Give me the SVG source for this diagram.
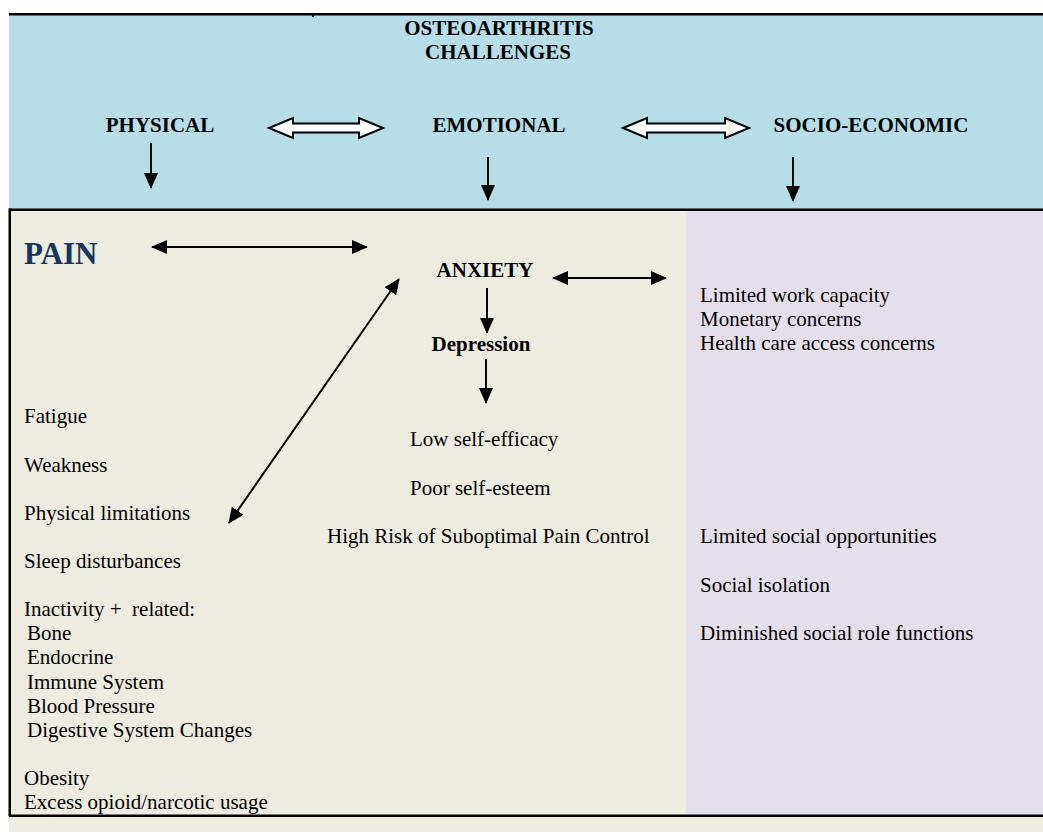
<svg xmlns="http://www.w3.org/2000/svg" width="1043" height="832" viewBox="0 0 1043 832">
<style>
.t{font-family:"Liberation Serif","Times New Roman",serif;font-size:21px;fill:#000}
.b{font-family:"Liberation Serif","Times New Roman",serif;font-size:21px;font-weight:bold;fill:#000}
.c{text-anchor:middle}
.ln{stroke:#000;stroke-width:2;fill:none}
.hollow{fill:#fff;stroke:#000;stroke-width:2;stroke-linejoin:miter}
</style>
<defs>
<marker id="ah" markerUnits="userSpaceOnUse" markerWidth="17" markerHeight="15" refX="15" refY="7" orient="auto-start-reverse" viewBox="0 0 17 15">
<path d="M0,0 L16,7 L0,14 z" fill="#000"/>
</marker>
</defs>
<g id="background">
<rect x="9" y="15" width="1034" height="194" fill="#b7dde8"/>
<rect x="9" y="209" width="1034" height="623" fill="#eeece1"/>
<rect x="686" y="210" width="357" height="605" fill="#e5dfec"/>
<rect x="9" y="13" width="1034" height="2.5" fill="#000"/>
<rect x="312" y="15" width="2" height="2" fill="#000"/>
<rect x="9" y="208.5" width="1034" height="2.5" fill="#000"/>
<rect x="8.5" y="208.5" width="2.5" height="608" fill="#000"/>
<rect x="9" y="814.5" width="1034" height="2.5" fill="#000"/>
</g>
<g id="title">
<text class="b c" x="499" y="35">OSTEOARTHRITIS</text>
<text class="b c" x="498" y="59">CHALLENGES</text>
</g>
<g id="physical"><text class="b c" x="160" y="132">PHYSICAL</text></g>
<g id="emotional"><text class="b c" x="499" y="132">EMOTIONAL</text></g>
<g id="socio-economic"><text class="b c" x="871" y="132">SOCIO-ECONOMIC</text></g>
<g id="pain"><text x="24" y="264" style="font-family:'Liberation Serif','Times New Roman',serif;font-size:31px;font-weight:bold;fill:#17365d">PAIN</text></g>
<g id="anxiety"><text class="b c" x="485" y="277">ANXIETY</text></g>
<g id="depression"><text class="b c" x="481" y="351">Depression</text></g>
<g id="emotional-effects">
<text class="t" x="410" y="446">Low self-efficacy</text>
<text class="t" x="410" y="495">Poor self-esteem</text>
<text class="t" x="327" y="543">High Risk of Suboptimal Pain Control</text>
</g>
<g id="physical-effects">
<text class="t" x="24" y="423">Fatigue</text>
<text class="t" x="24" y="472">Weakness</text>
<text class="t" x="24" y="520">Physical limitations</text>
<text class="t" x="24" y="568">Sleep disturbances</text>
<text class="t" x="24" y="616" xml:space="preserve">Inactivity +  related:</text>
<text class="t" x="27" y="640">Bone</text>
<text class="t" x="27" y="664">Endocrine</text>
<text class="t" x="27" y="689">Immune System</text>
<text class="t" x="27" y="713">Blood Pressure</text>
<text class="t" x="27" y="737">Digestive System Changes</text>
<text class="t" x="24" y="785">Obesity</text>
<text class="t" x="24" y="809">Excess opioid/narcotic usage</text>
</g>
<g id="socio-effects">
<text class="t" x="700" y="302">Limited work capacity</text>
<text class="t" x="700" y="326">Monetary concerns</text>
<text class="t" x="700" y="350">Health care access concerns</text>
<text class="t" x="700" y="543">Limited social opportunities</text>
<text class="t" x="700" y="592">Social isolation</text>
<text class="t" x="700" y="640">Diminished social role functions</text>
</g>
<g id="connectors">
<polygon class="hollow" points="269,128 293,118 293,123.5 359,123.5 359,118 383,128 359,138 359,132.5 293,132.5 293,138"/>
<polygon class="hollow" points="623,128 647,118 647,123.5 725,123.5 725,118 749,128 725,138 725,132.5 647,132.5 647,138"/>
<line class="ln" x1="151" y1="143" x2="151" y2="188" marker-end="url(#ah)"/>
<line class="ln" x1="488" y1="157" x2="488" y2="200" marker-end="url(#ah)"/>
<line class="ln" x1="793" y1="157" x2="793" y2="201" marker-end="url(#ah)"/>
<line class="ln" x1="152" y1="247" x2="367" y2="247" marker-start="url(#ah)" marker-end="url(#ah)"/>
<line class="ln" x1="553" y1="278" x2="666" y2="278" marker-start="url(#ah)" marker-end="url(#ah)"/>
<line class="ln" x1="487" y1="288" x2="487" y2="333" marker-end="url(#ah)"/>
<line class="ln" x1="486" y1="359" x2="486" y2="403" marker-end="url(#ah)"/>
<line class="ln" x1="399" y1="279" x2="229" y2="523" marker-start="url(#ah)" marker-end="url(#ah)"/>
</g>
</svg>
